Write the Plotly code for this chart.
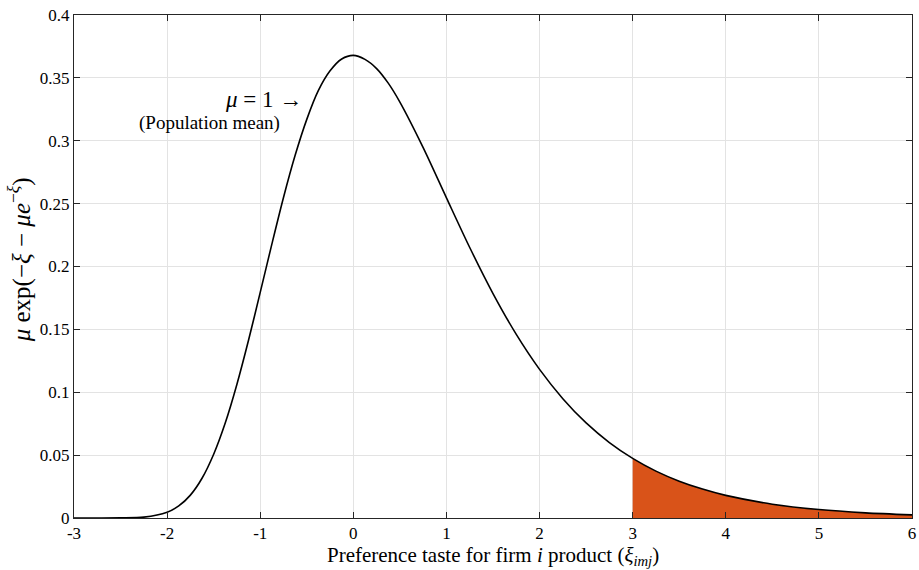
import plotly.graph_objects as go

# Values (density curve)
x_vals = [-3.0, -2.75, -2.5, -2.25, -2.0, -1.875, -1.75, -1.625, -1.5, -1.375, -1.25, -1.125, -1.0,
          -0.875, -0.75, -0.625, -0.5, -0.375, -0.25, -0.125, 0.0, 0.125, 0.25, 0.375, 0.5, 0.75,
          1.0, 1.25, 1.5, 1.75, 2.0, 2.25, 2.5, 2.75, 3.0, 3.25, 3.5, 3.75, 4.0, 4.5, 5.0, 5.5, 6.0]
y_vals = [0.0, 0.0, 0.0001, 0.0007, 0.0046, 0.0096, 0.0182, 0.0316, 0.0507, 0.0757, 0.1064, 0.1415, 0.1794,
          0.2178, 0.2549, 0.2884, 0.3170, 0.3400, 0.3556, 0.3650, 0.3679, 0.3647, 0.3574, 0.3458, 0.3307, 0.2945,
          0.2546, 0.2151, 0.1785, 0.1460, 0.1182, 0.0949, 0.0756, 0.0600, 0.0474, 0.0373, 0.0293, 0.0230, 0.0180,
          0.0110, 0.0067, 0.0041, 0.0025]
shade_start = 3.0

x_ticks = [-3, -2, -1, 0, 1, 2, 3, 4, 5, 6]
x_tick_labels = ["-3", "-2", "-1", "0", "1", "2", "3", "4", "5", "6"]
y_ticks = [0, 0.05, 0.1, 0.15, 0.2, 0.25, 0.3, 0.35, 0.4]
y_tick_labels = ["0", "0.05", "0.1", "0.15", "0.2", "0.25", "0.3", "0.35", "0.4"]

FONT = "Liberation Serif"

shade_x = [x for x in x_vals if x >= shade_start]
shade_y = [y for x, y in zip(x_vals, y_vals) if x >= shade_start]

fig = go.Figure()
fig.add_trace(go.Scatter(x=shade_x, y=shade_y, mode="lines", fill="tozeroy",
                         fillcolor="#D95319", line=dict(color="#D95319", width=0, shape="spline"),
                         hoverinfo="skip", showlegend=False))
fig.add_trace(go.Scatter(x=x_vals, y=y_vals, mode="lines",
                         line=dict(color="black", width=1.6, shape="spline", smoothing=0.8),
                         showlegend=False))

fig.add_annotation(x=-0.53, y=0.3325, xref="x", yref="y", text="<i>μ</i> = 1 →",
                   showarrow=False, xanchor="right", yanchor="middle",
                   font=dict(family=FONT, size=23, color="black"))
fig.add_annotation(x=-0.77, y=0.3145, xref="x", yref="y", text="(Population mean)",
                   showarrow=False, xanchor="right", yanchor="middle",
                   font=dict(family=FONT, size=19, color="black"))

# axis titles
fig.add_annotation(x=0.5, y=-0.075, xref="paper", yref="paper",
                   text="Preference taste for firm <i>i</i> product (<i>ξ</i><sub><i>imj</i></sub>)",
                   showarrow=False, xanchor="center", yanchor="middle",
                   font=dict(family=FONT, size=21, color="black"))
fig.add_annotation(x=-0.064, y=0.513, xref="paper", yref="paper",
                   text="<i>μ</i> exp(−<i>ξ</i> − <i>μe</i><sup>−<i>ξ</i></sup>)",
                   showarrow=False, xanchor="center", yanchor="middle", textangle=-90,
                   font=dict(family=FONT, size=25, color="black"))

axis_common = dict(showgrid=True, gridcolor="#E3E3E3", gridwidth=1,
                   showline=True, linecolor="#262626", linewidth=1, mirror="allticks",
                   ticks="inside", ticklen=6, tickcolor="#262626", zeroline=False,
                   automargin=False, ticklabeloverflow="allow",
                   tickfont=dict(family=FONT, size=17, color="black"))

fig.update_xaxes(range=[-3, 6], tickvals=x_ticks, ticktext=x_tick_labels, **axis_common)
fig.update_yaxes(range=[0, 0.4], tickvals=y_ticks, ticktext=y_tick_labels, **axis_common)

fig.update_layout(width=919, height=570, plot_bgcolor="white", paper_bgcolor="white",
                  margin=dict(l=74, r=7, t=15, b=52), font=dict(family=FONT, color="black"))

fig.write_html("out.html", config={"displayModeBar": False},
               post_script="document.body.style.margin='0px';document.body.style.overflow='hidden';")
